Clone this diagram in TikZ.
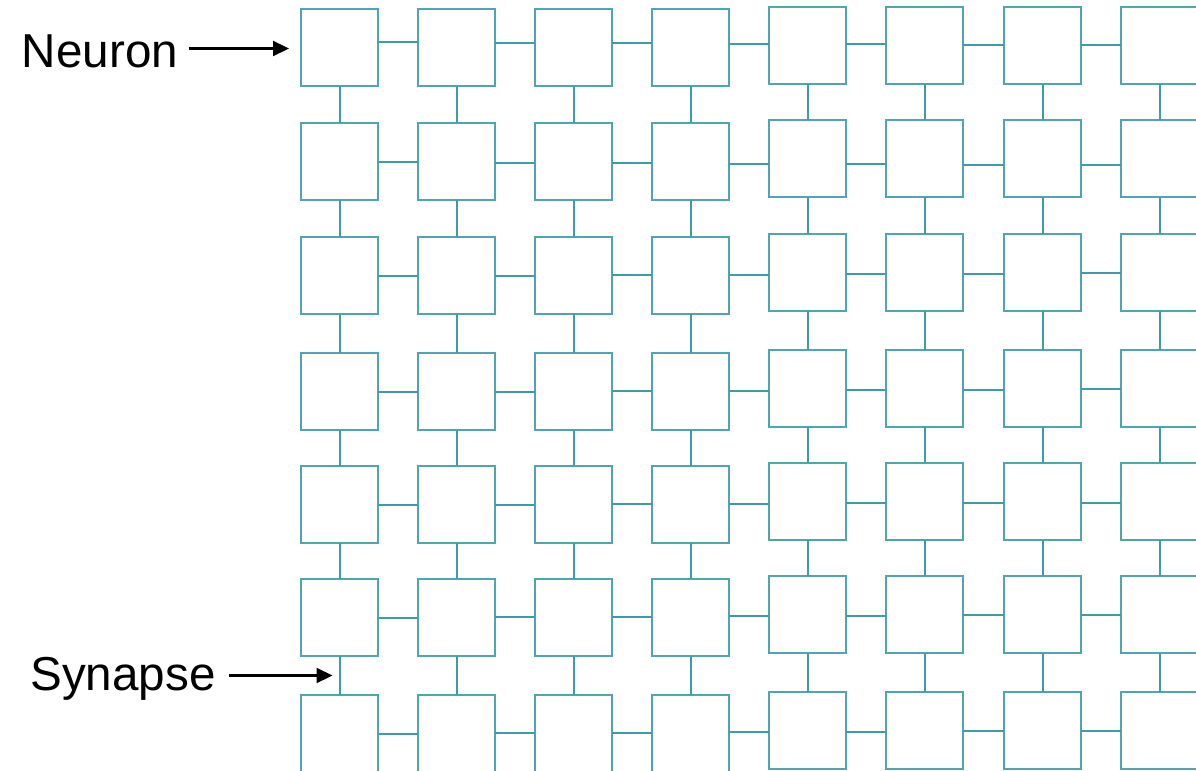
\documentclass[tikz,border=0pt]{standalone}
\usepackage{fontspec}
\setmainfont{Liberation Sans}
\usetikzlibrary{arrows.meta,calc}
\definecolor{tealbox}{HTML}{4FA6B0}
\definecolor{tealsyn}{HTML}{3F9CA7}
\begin{document}
\begin{tikzpicture}[x=0.5pt,y=-0.5pt,
  neuron/.style={draw=tealbox,line width=1.2pt,minimum size=38.5pt,inner sep=0pt,outer sep=0pt,fill=white},
  syn/.style={draw=tealsyn,line width=1pt},
  lbl/.style={font=\fontsize{23.8}{29}\selectfont,inner sep=0pt,anchor=base west},
  pointer/.style={-{Triangle[length=8pt,width=7.5pt]},line width=1.1pt,black}]
\useasboundingbox (0,0) rectangle (1196,771);
\clip (0,0) rectangle (1196,771);
% neurons
\foreach \c/\x in {1/301,2/418,3/535,4/652,5/769,6/886,7/1004,8/1121}{
  \foreach \r/\y in {1/9,2/123,3/237,4/353,5/466,6/579,7/695}{
    \pgfmathsetmacro\dy{\c>4 ? (\r==1 ? 2 : 3) : 0}
    \node[neuron] (n-\r-\c) at (\x+38.5,\y-\dy+38.5) {};
  }
}
% vertical synapses
\foreach \c in {1,...,8}{
  \foreach \r in {1,...,6}{
    \pgfmathtruncatemacro\rn{\r+1}
    \draw[syn] (n-\r-\c.south) -- (n-\rn-\c.north);
  }
}
% horizontal synapses
\foreach \r/\yl/\yr in {1/42/45,2/162/165,3/276/273,4/392/389,5/505/502.5,6/618/614.7,7/733.5/731}{
  \foreach \c in {1,...,7}{
    \pgfmathsetmacro\yy{\yl+(\yr-\yl)*(\c-1)/6}
    \pgfmathtruncatemacro\cn{\c+1}
    \coordinate (hy) at (0,\yy);
    \draw[syn] (n-\r-\c.east |- hy) -- (n-\r-\cn.west |- hy);
  }
}
% labels
\node[lbl] (neuronlbl) at (21.5,68) {Neuron};
\coordinate (nt) at ([xshift=-6pt,yshift=-0.5pt]n-1-1.west);
\coordinate (ns) at ([xshift=5.5pt]neuronlbl.east);
\draw[pointer] (ns |- nt) -- (nt);
\node[lbl] (synlbl) at (30,690) {Synapse};
\coordinate (st) at ([xshift=-3.5pt]$(n-6-1.south)!0.5!(n-7-1.north)$);
\coordinate (ss) at ([xshift=6.5pt]synlbl.east);
\draw[pointer] (ss |- st) -- (st);
\end{tikzpicture}
\end{document}
